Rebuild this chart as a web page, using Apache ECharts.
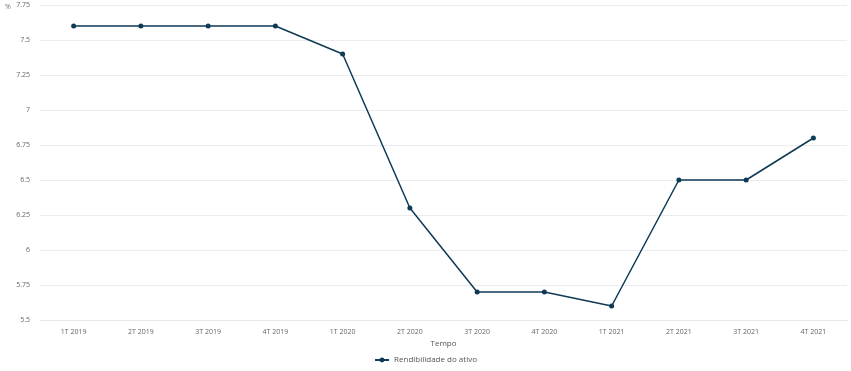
<!DOCTYPE html>
<html><head><meta charset="utf-8">
<script src="https://cdn.jsdelivr.net/npm/echarts@6/dist/echarts.min.js"></script>
<style>html,body{margin:0;padding:0;background:#fff}#c{width:851px;height:371px}</style>
</head><body><div id="c"></div>
<script>
const categories = ["1T 2019","2T 2019","3T 2019","4T 2019","1T 2020","2T 2020","3T 2020","4T 2020","1T 2021","2T 2021","3T 2021","4T 2021"];
const values = [7.6,7.6,7.6,7.6,7.4,6.3,5.7,5.7,5.6,6.5,6.5,6.8];
const seriesName = "Rendibilidade do ativo";
const yUnit = "%";
const chart = echarts.init(document.getElementById('c'), null, {renderer:'canvas'});
const font = "'Open Sans', sans-serif";
chart.setOption({
  animation:false,
  grid:{left:40,right:4,top:5,bottom:51,containLabel:false,outerBoundsMode:'none'},
  legend:{bottom:2,left:'center',itemWidth:14,itemHeight:6,itemGap:10,
    textStyle:{fontFamily:font,fontSize:8,color:'#555'},data:[seriesName]},
  graphic:[{type:'text',left:5,top:3,style:{text:yUnit,font:"7px 'Open Sans', sans-serif",fill:'#777'}}],
  xAxis:{type:'category',data:categories,boundaryGap:true,name:'Tempo',nameLocation:'middle',nameGap:20,
    nameTextStyle:{fontFamily:font,fontSize:8,color:'#555'},
    axisLine:{lineStyle:{color:'#e6e6ee',width:1}},axisTick:{show:false},
    axisLabel:{fontFamily:font,fontSize:7,color:'#666',margin:8}},
  yAxis:{type:'value',min:5.5,max:7.75,interval:0.25,
    axisLine:{show:false},axisTick:{show:false},
    axisLabel:{fontFamily:font,fontSize:7,color:'#666',margin:10},
    splitLine:{lineStyle:{color:'#ebebf0',width:1}}},
  series:[{name:seriesName,type:'line',data:values,symbol:'circle',symbolSize:5,
    lineStyle:{color:'#0e3a55',width:1.5},itemStyle:{color:'#0e3a55'}}]
});
</script></body></html>
